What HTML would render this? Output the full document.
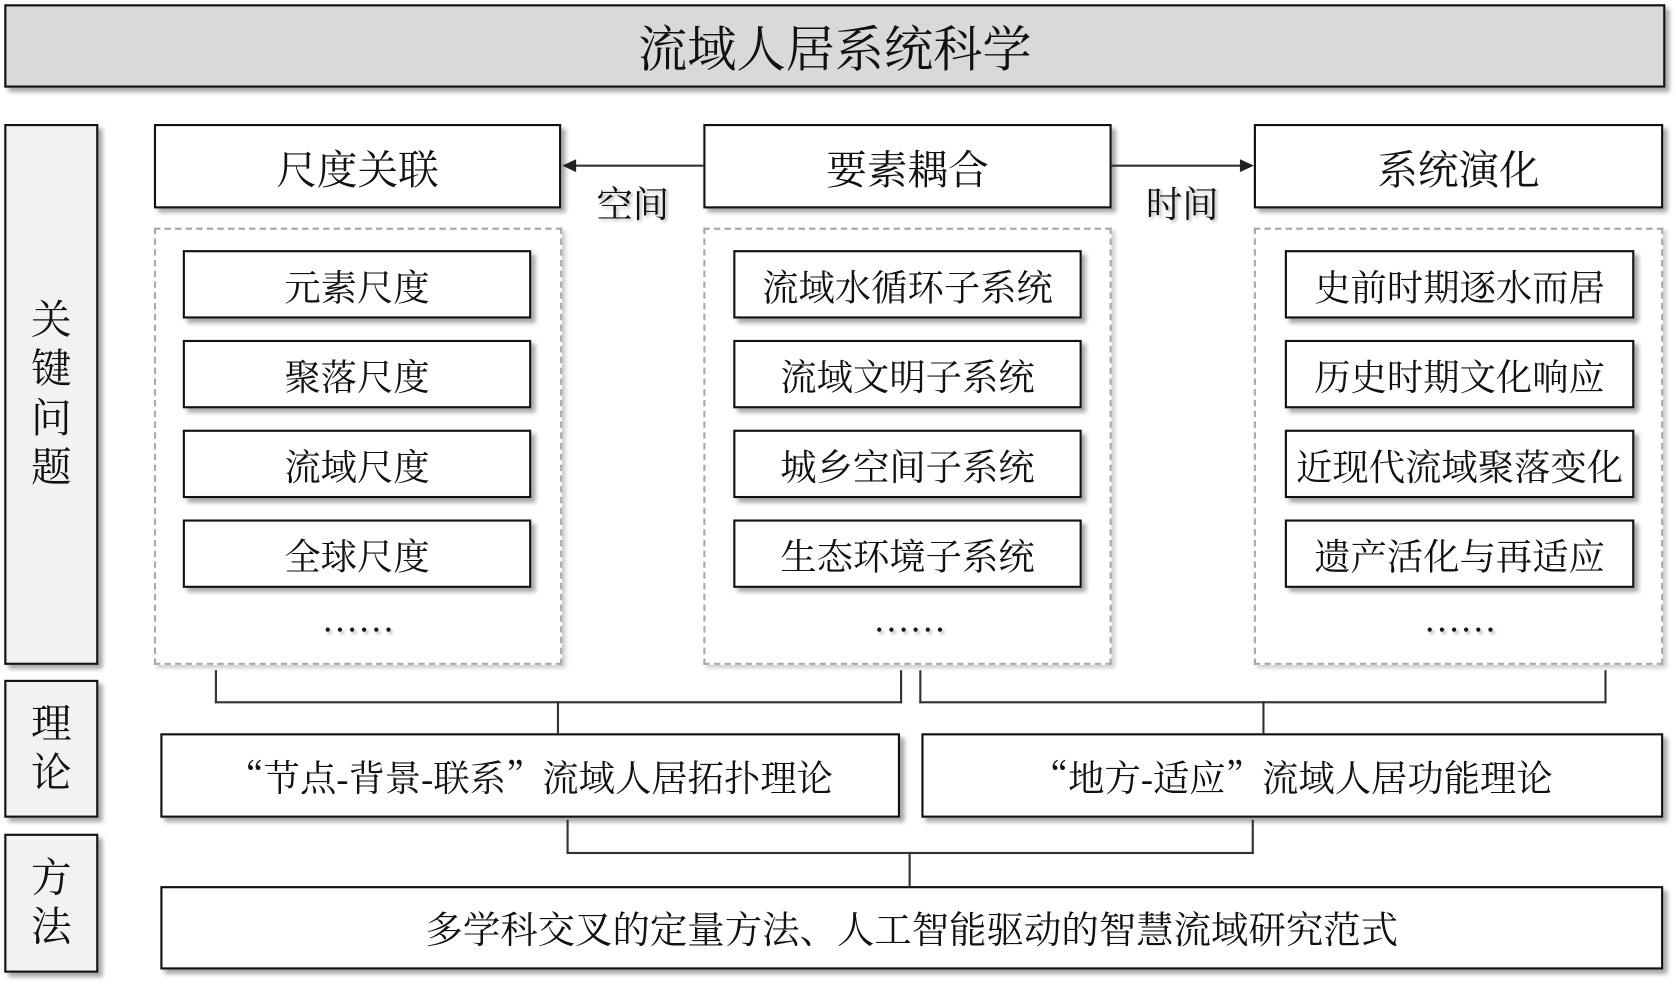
<!DOCTYPE html>
<html><head><meta charset="utf-8"><style>
html,body{margin:0;padding:0;background:#fff;width:1676px;height:984px;overflow:hidden}
#w{position:absolute;left:0;top:0;width:1568px;height:920px;transform:scale(1.0689);transform-origin:0 0;font-family:"Liberation Serif","Noto Serif CJK SC","Noto Sans CJK SC",serif;color:#111}
.b{position:absolute;box-sizing:border-box;border:2px solid #111;background:#fff;box-shadow:4px 4px 4px rgba(0,0,0,.35);display:flex;align-items:center;justify-content:center;white-space:nowrap}
.d{position:absolute;box-sizing:border-box;border:2px dashed #aaa;box-shadow:3px 3px 4px rgba(0,0,0,.2)}
.l{position:absolute;background:#333}
.t{position:absolute;font-size:34px;white-space:nowrap;text-shadow:2px 2px 3px rgba(0,0,0,.3)}
.side{background:#f2f2f2;flex-direction:column;font-size:38px;line-height:46px}
.i{font-size:34px}
.h{font-size:38px}
.q{font-family:"Noto Serif CJK SC",serif}
</style></head><body><div id="w">
<div class="b" style="left:4px;top:4px;width:1554px;height:78px;background:#d9d9d9;font-size:46px">流域人居系统科学</div>
<div class="b side" style="left:4px;top:116px;width:88px;height:506px">关<br>键<br>问<br>题</div>
<div class="b side" style="left:4px;top:636px;width:88px;height:129px">理<br>论</div>
<div class="b side" style="left:4px;top:780px;width:88px;height:130px">方<br>法</div>

<div class="b h" style="left:144px;top:116px;width:381px;height:79px">尺度关联</div>
<div class="b h" style="left:658px;top:116px;width:382px;height:79px">要素耦合</div>
<div class="b h" style="left:1173px;top:116px;width:383px;height:79px">系统演化</div>
<div class="l" style="left:536px;top:154px;width:122px;height:2px"></div>
<svg style="position:absolute;left:524px;top:148px" width="16" height="14"><polygon points="2,7 15,1 15,13" fill="#222"/></svg>
<div class="l" style="left:1040px;top:154px;width:122px;height:2px"></div>
<svg style="position:absolute;left:1159px;top:148px" width="16" height="14"><polygon points="14,7 1,1 1,13" fill="#222"/></svg>
<div class="t" style="left:558px;top:164px">空间</div>
<div class="t" style="left:1072px;top:164px">时间</div>

<div class="d" style="left:144px;top:213px;width:382px;height:409px"></div>
<div class="d" style="left:658px;top:213px;width:382px;height:409px"></div>
<div class="d" style="left:1173px;top:213px;width:383px;height:409px"></div>

<div class="b i" style="left:171px;top:234px;width:326px;height:64px">元素尺度</div>
<div class="b i" style="left:171px;top:318px;width:326px;height:64px">聚落尺度</div>
<div class="b i" style="left:171px;top:402px;width:326px;height:64px">流域尺度</div>
<div class="b i" style="left:171px;top:486px;width:326px;height:64px">全球尺度</div>
<div class="b i" style="left:686px;top:234px;width:326px;height:64px">流域水循环子系统</div>
<div class="b i" style="left:686px;top:318px;width:326px;height:64px">流域文明子系统</div>
<div class="b i" style="left:686px;top:402px;width:326px;height:64px">城乡空间子系统</div>
<div class="b i" style="left:686px;top:486px;width:326px;height:64px">生态环境子系统</div>
<div class="b i" style="left:1202px;top:234px;width:327px;height:64px">史前时期逐水而居</div>
<div class="b i" style="left:1202px;top:318px;width:327px;height:64px">历史时期文化响应</div>
<div class="b i" style="left:1202px;top:402px;width:327px;height:64px">近现代流域聚落变化</div>
<div class="b i" style="left:1202px;top:486px;width:327px;height:64px">遗产活化与再适应</div>
<div class="t" style="left:301px;top:562px;font-size:34px">……</div>
<div class="t" style="left:817px;top:562px;font-size:34px">……</div>
<div class="t" style="left:1332px;top:562px;font-size:34px">……</div>

<div class="l" style="left:201px;top:627px;width:2px;height:31px"></div>
<div class="l" style="left:201px;top:656px;width:643px;height:2px"></div>
<div class="l" style="left:842px;top:627px;width:2px;height:31px"></div>
<div class="l" style="left:860px;top:627px;width:2px;height:31px"></div>
<div class="l" style="left:860px;top:656px;width:643px;height:2px"></div>
<div class="l" style="left:1501px;top:627px;width:2px;height:31px"></div>
<div class="l" style="left:521px;top:656px;width:2px;height:30px"></div>
<div class="l" style="left:1181px;top:656px;width:2px;height:30px"></div>

<div class="b" style="left:150px;top:686px;width:692px;height:79px;font-size:34px"><span class="q">“</span>节点-背景-联系<span class="q">”</span>流域人居拓扑理论</div>
<div class="b" style="left:862px;top:686px;width:694px;height:79px;font-size:34px"><span class="q">“</span>地方-适应<span class="q">”</span>流域人居功能理论</div>
<div class="l" style="left:530px;top:767px;width:2px;height:32px"></div>
<div class="l" style="left:530px;top:797px;width:643px;height:2px"></div>
<div class="l" style="left:1171px;top:767px;width:2px;height:32px"></div>
<div class="l" style="left:850px;top:797px;width:2px;height:32px"></div>
<div class="b" style="left:150px;top:829px;width:1406px;height:78px;font-size:35px">多学科交叉的定量方法、人工智能驱动的智慧流域研究范式</div>
</div></body></html>
